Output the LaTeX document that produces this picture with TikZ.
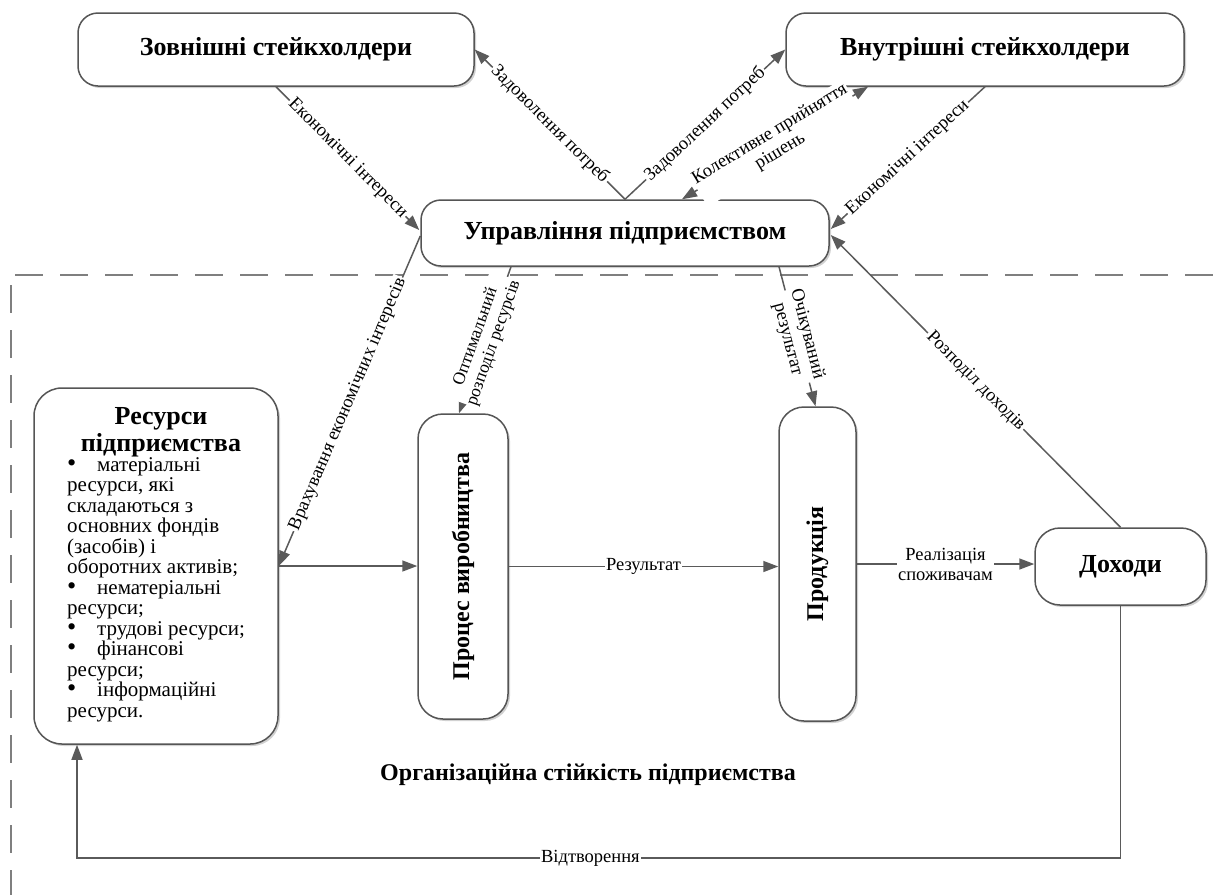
\documentclass[tikz,border=0pt]{standalone}
\usepackage{fontspec}
\setmainfont{Liberation Serif}
\usetikzlibrary{arrows.meta,shadows,calc}
\definecolor{edgec}{HTML}{5A5A5A}
\definecolor{boxc}{HTML}{555555}
\definecolor{dashc}{HTML}{7F7F7F}
\newcommand{\blt}{\makebox[30pt][l]{\scalebox{1.25}{•}}}
\begin{document}
\begin{tikzpicture}[x=1pt,y=-1pt,
  box/.style={draw=boxc, line width=1.5pt, rounded corners=20pt, fill=white,
    drop shadow={shadow xshift=2pt, shadow yshift=-2pt, fill=black!30, opacity=0.6},
    inner sep=0pt, font=\fontsize{26}{30}\selectfont\bfseries},
  vbox/.style={box, rounded corners=25pt, font=\fontsize{24}{28}\selectfont\bfseries},
  conn/.style={draw=edgec, line width=1.5pt, -{Triangle[length=15pt,width=11pt]}},
  lbl/.style={font=\fontsize{18.5}{20}\selectfont, fill=white, inner sep=1.5pt, align=center, text=black},
]
\useasboundingbox (0,0) rectangle (1230,895);

% dashed boundary
\draw[dashc, line width=2pt, dash pattern=on 28pt off 17pt] (15,275) -- (1230,275);
\draw[dashc, line width=2pt, dash pattern=on 28pt off 17pt] (11,285) -- (11,895);

% boxes
\node[box, minimum width=396pt, minimum height=73pt] (ext) at (276,49.5) {Зовнішні стейкхолдери};
\node[box, minimum width=398pt, minimum height=73pt] (int) at (985,49.5) {Внутрішні стейкхолдери};
\node[box, minimum width=408pt, minimum height=66pt] (mgmt) at (625,233) {Управління підприємством};
\node[box, rounded corners=28pt, minimum width=244pt, minimum height=356pt] (res) at (156,566) {};
\node[vbox, minimum width=90pt, minimum height=305pt] (proc) at (463,566.5) {\rotatebox{90}{Процес виробництва}};
\node[vbox, minimum width=77pt, minimum height=314pt] (prod) at (817.5,564) {\rotatebox{90}{Продукція}};
\node[box, rounded corners=25pt, minimum width=171pt, minimum height=77pt] (dok) at (1120.5,566.5) {Доходи};

% resources text
\node[font=\fontsize{26}{26.5}\selectfont\bfseries, align=center, inner sep=0pt] (restitle) at (161,432) {Ресурси\\підприємства};
\node[anchor=north west, inner sep=0pt, align=left,
  font=\fontsize{21}{20.5}\selectfont] (resbody) at (67,457)
  {\blt матеріальні\\ресурси, які\\складаються з\\основних фондів\\{(засобів) і}\\оборотних активів;\\
   \blt нематеріальні\\ресурси;\\
   \blt трудові ресурси;\\
   \blt фінансові\\ресурси;\\
   \blt інформаційні\\ресурси.};

% organisational title
\node[font=\fontsize{24}{28}\selectfont\bfseries, inner sep=0pt] (orgtitle) at (588,775) {Організаційна стійкість підприємства};

% connectors
\draw[conn] (ext.south) -- node[lbl, sloped] {Економічні інтереси} ($(mgmt.west)+(-1,-3)$);
\draw[conn] (mgmt.north) -- node[lbl, sloped] {Задоволення потреб} (ext.east);
\draw[conn] (mgmt.north) -- node[lbl, sloped] {Задоволення потреб} (int.west);
\draw[conn, {Triangle[length=15pt,width=11pt]}-{Triangle[length=15pt,width=11pt]}]
  ($(mgmt.north)+(57,0)$) -- node[lbl, sloped] {Колективне прийняття\\рішень} ($(int.south)+(-117,0)$);
\draw[conn] (int.south) -- node[lbl, sloped] {Економічні інтереси} ($(mgmt.east)+(1,-4)$);
\draw[conn] (dok.north) -- node[lbl, sloped] {Розподіл доходів} ($(mgmt.east)+(1,2)$);
\draw[conn] ($(mgmt.west)+(0,3)$) -- node[lbl, sloped, pos=0.51] {Врахування економічних інтересів} (res.east);
\draw[conn] (res.east) -- (res.east -| proc.west);
\draw[conn] ($(mgmt.south)+(-114,0)$) -- node[lbl, sloped, pos=0.5, font=\fontsize{17.5}{19}\selectfont, inner sep=1pt] {Оптимальний\\розподіл ресурсів} ($(proc.north)+(-4,0)$);
\draw[conn] ($(mgmt.south)+(154,0)$) -- node[lbl, sloped] {Очікуваний\\результат} ($(prod.north)+(-2,0)$);
\draw[conn] (proc.east) -- node[lbl] {Результат} (proc.east -| prod.west);
\draw[conn] (prod.east) -- node[lbl] {Реалізація\\споживачам} (prod.east -| dok.west);
\coordinate (loopL) at (77,858);
\draw[conn] (dok.south) |- node[lbl, pos=0.754] {Відтворення} (loopL) -- (loopL |- res.south);
\end{tikzpicture}
\end{document}
